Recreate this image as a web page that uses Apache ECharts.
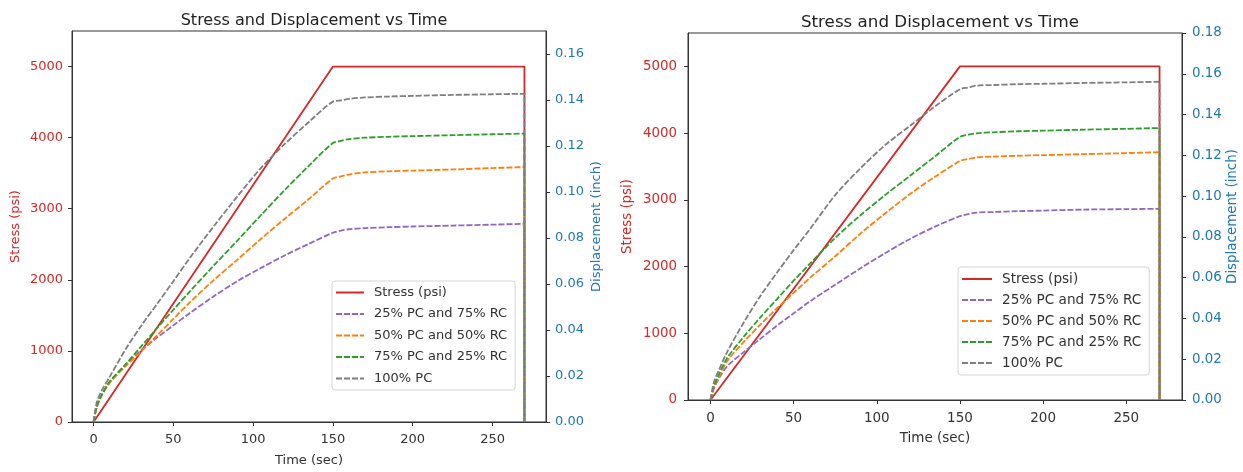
<!DOCTYPE html>
<html>
<head>
<meta charset="utf-8">
<title>Stress and Displacement vs Time</title>
<script src="https://cdn.jsdelivr.net/npm/echarts@6/dist/echarts.min.js"></script>
<style>
  html, body { margin: 0; padding: 0; background: #fff; }
  #chart { width: 1243px; height: 472px; }
</style>
</head>
<body>
<div id="chart"></div>
<script>
// time stamps (sec) used by every displacement curve
const timeSec = [0, 2, 5, 10, 20, 30, 40, 50, 60, 75, 90, 105, 120, 135, 150, 155, 160, 170, 185, 200, 225, 250, 270]

// applied stress (psi)
const stressTime = [0, 150, 270, 270]
const stressPsi = [0, 5000, 5000, 0]

// left test, displacement (inch)
const leftPC25 = [0, 0.0065, 0.0115, 0.0170, 0.0248, 0.0312, 0.0368, 0.0420, 0.0472, 0.0545, 0.0612, 0.0670, 0.0725, 0.0775, 0.0823,
  0.0832, 0.0838, 0.0843, 0.0847, 0.0850, 0.0854, 0.0858, 0.0862]
const leftPC50 = [0, 0.0065, 0.0115, 0.0170, 0.0242, 0.0308, 0.0378, 0.0448, 0.0518, 0.0615, 0.0705, 0.0797, 0.0885, 0.0970, 0.1059,
  0.1068, 0.1076, 0.1085, 0.1090, 0.1093, 0.1098, 0.1104, 0.1108]
const leftPC75 = [0, 0.0065, 0.0115, 0.0175, 0.0250, 0.0330, 0.0410, 0.0488, 0.0565, 0.0678, 0.0788, 0.0900, 0.1010, 0.1115, 0.1213,
  0.1222, 0.1230, 0.1236, 0.1240, 0.1243, 0.1247, 0.1251, 0.1254]
const leftPC100 = [0, 0.0085, 0.0135, 0.0195, 0.0315, 0.0420, 0.0515, 0.0612, 0.0710, 0.0848, 0.0980, 0.1105, 0.1210, 0.1305, 0.1393,
  0.1398, 0.1405, 0.1411, 0.1415, 0.1418, 0.1422, 0.1425, 0.1427]

// right test, displacement (inch)
const rightPC25 = [0, 0.0055, 0.0105, 0.0165, 0.0235, 0.0300, 0.0365, 0.0425, 0.0485, 0.0565, 0.0645, 0.0720, 0.0790, 0.0850, 0.0902,
  0.0912, 0.0919, 0.0922, 0.0926, 0.0929, 0.0934, 0.0936, 0.0938]
const rightPC50 = [0, 0.0060, 0.0110, 0.0190, 0.0285, 0.0370, 0.0450, 0.0525, 0.0600, 0.0705, 0.0815, 0.0915, 0.1010, 0.1095, 0.1172,
  0.1182, 0.1190, 0.1194, 0.1198, 0.1201, 0.1206, 0.1211, 0.1216]
const rightPC75 = [0, 0.0065, 0.0125, 0.0205, 0.0310, 0.0405, 0.0495, 0.0585, 0.0670, 0.0795, 0.0905, 0.1005, 0.1100, 0.1195, 0.1291,
  0.1301, 0.1308, 0.1313, 0.1318, 0.1321, 0.1326, 0.1330, 0.1334]
const rightPC100 = [0, 0.0085, 0.0145, 0.0235, 0.0380, 0.0510, 0.0625, 0.0735, 0.0840, 0.1005, 0.1135, 0.1250, 0.1345, 0.1440, 0.1524,
  0.1533, 0.1542, 0.1545, 0.1549, 0.1551, 0.1555, 0.1558, 0.1561]

// axis ticks
const timeTicks = [0, 50, 100, 150, 200, 250]
const stressTicks = [0, 1000, 2000, 3000, 4000, 5000]
const leftDispTicks = [0, 0.02, 0.04, 0.06, 0.08, 0.10, 0.12, 0.14, 0.16]
const rightDispTicks = [0, 0.02, 0.04, 0.06, 0.08, 0.10, 0.12, 0.14, 0.16, 0.18]

const seriesNames = ['Stress (psi)', '25% PC and 75% RC', '50% PC and 50% RC', '75% PC and 25% RC', '100% PC']
const seriesColors = ['#d62728', '#9467bd', '#ff7f0e', '#2ca02c', '#7f7f7f']

const font = 'DejaVu Sans'
const ink = '#333'

var myChart = echarts.init(document.getElementById('chart'))

// pair values with time, then the drop to zero at the end of the test
const toPoints = (vals) => timeSec.map((t, i) => [t, vals[i]]).concat([[270, 0]])

function makeSeries(grid, curves) {
  const out = [{
    name: seriesNames[0],
    type: 'line',
    xAxisIndex: grid,
    yAxisIndex: grid * 2,
    data: stressTime.map((t, i) => [t, stressPsi[i]]),
    symbol: 'none',
    color: seriesColors[0],
    lineStyle: { color: seriesColors[0], width: 1.8 }
  }]
  curves.forEach((vals, k) => {
    out.push({
      name: seriesNames[k + 1],
      type: 'line',
      xAxisIndex: grid,
      yAxisIndex: grid * 2 + 1,
      data: toPoints(vals),
      symbol: 'none',
      smooth: 0.3,
      color: seriesColors[k + 1],
      lineStyle: { color: seriesColors[k + 1], width: 1.8, type: [6, 2] }
    })
  })
  return out
}

function xAxis(grid, size, gap) {
  return {
    type: 'value', gridIndex: grid, min: -13.5, max: 283.5,
    name: 'Time (sec)', nameLocation: 'middle', nameGap: gap,
    nameTextStyle: { fontFamily: font, fontSize: size, color: ink },
    axisLine: { show: true, onZero: false, lineStyle: { color: ink } },
    axisTick: { show: true, length: 4, customValues: timeTicks, lineStyle: { color: ink } },
    axisLabel: { customValues: timeTicks, fontFamily: font, fontSize: size, color: ink, margin: 11 },
    splitLine: { show: false }
  }
}

function yAxis(grid, pos, max, ticks, name, color, size, gap, margin, digits) {
  return {
    type: 'value', gridIndex: grid, position: pos, min: 0, max: max,
    name: name, nameLocation: 'middle', nameGap: gap,
    nameTextStyle: { fontFamily: font, fontSize: size, color: color },
    axisLine: { show: true, onZero: false, lineStyle: { color: ink } },
    axisTick: { show: true, length: 4, customValues: ticks, lineStyle: { color: ink } },
    axisLabel: {
      customValues: ticks, fontFamily: font, fontSize: size, color: color, margin: margin,
      formatter: (v) => v.toFixed(digits)
    },
    splitLine: { show: false }
  }
}

function legend(left, top, w, gap, size) {
  return {
    orient: 'vertical', left: left, top: top,
    itemWidth: w, itemHeight: 14, itemGap: gap,
    padding: [5, 8, 5, 3],
    borderColor: '#d5d5d5', borderWidth: 1, borderRadius: 3,
    backgroundColor: 'rgba(255,255,255,0.85)',
    itemStyle: { opacity: 0 },
    textStyle: { fontFamily: font, fontSize: size, color: ink, padding: [0, 0, 0, 5] },
    data: seriesNames
  }
}

var option = {
  animation: false,
  backgroundColor: '#fff',
  textStyle: { fontFamily: font },
  title: [
    { text: 'Stress and Displacement vs Time', left: 309, top: 8, textAlign: 'center',
      textStyle: { fontFamily: font, fontSize: 16, fontWeight: 'normal', color: '#222' } },
    { text: 'Stress and Displacement vs Time', left: 935, top: 9, textAlign: 'center',
      textStyle: { fontFamily: font, fontSize: 16.7, fontWeight: 'normal', color: '#222' } }
  ],
  grid: [
    { left: 72, top: 31, width: 474, height: 392, show: true, borderColor: ink, borderWidth: 1, backgroundColor: 'transparent' },
    { left: 688, top: 33, width: 494, height: 367, show: true, borderColor: ink, borderWidth: 1, backgroundColor: 'transparent' }
  ],
  xAxis: [xAxis(0, 13, 32), xAxis(1, 13.5, 31)],
  yAxis: [
    yAxis(0, 'left', 5500, stressTicks, 'Stress (psi)', '#d62728', 13, 50, 9, 0),
    yAxis(0, 'right', 0.17, leftDispTicks, 'Displacement (inch)', '#1f77b4', 13, 44, 9, 2),
    yAxis(1, 'left', 5500, stressTicks, 'Stress (psi)', '#d62728', 13.4, 54, 11, 0),
    yAxis(1, 'right', 0.18, rightDispTicks, 'Displacement (inch)', '#1f77b4', 13.4, 43, 10, 2)
  ],
  legend: [legend(332, 281, 28, 8.5, 13), legend(958, 267, 30, 7, 13.6)],
  series: makeSeries(0, [leftPC25, leftPC50, leftPC75, leftPC100])
    .concat(makeSeries(1, [rightPC25, rightPC50, rightPC75, rightPC100]))
}
myChart.setOption(option)
</script>
</body>
</html>
